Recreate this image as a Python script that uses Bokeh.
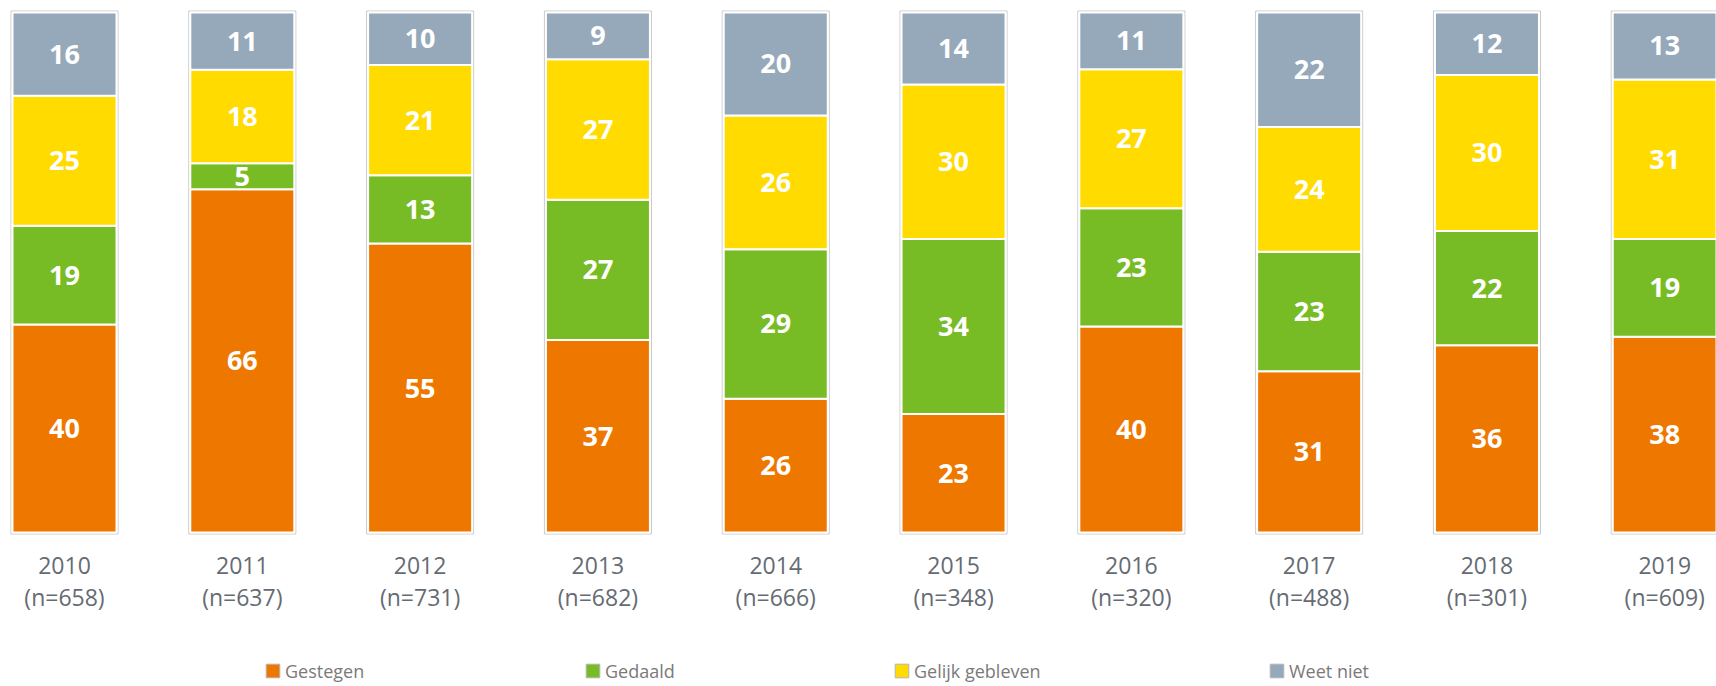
import numpy as np
from bokeh.plotting import figure
from bokeh.models import ColumnDataSource, Legend, LegendItem, Range1d
from bokeh.core.properties import value
from bokeh.embed import file_html
from bokeh.resources import INLINE

# ---- data ----
years = ["2010", "2011", "2012", "2013", "2014", "2015", "2016", "2017", "2018", "2019"]
n_resp = [658, 637, 731, 682, 666, 348, 320, 488, 301, 609]
gestegen = [40, 66, 55, 37, 26, 23, 40, 31, 36, 38]
gedaald = [19, 5, 13, 27, 29, 34, 23, 23, 22, 19]
gelijk = [25, 18, 21, 27, 26, 30, 27, 24, 30, 31]
weet_niet = [16, 11, 10, 9, 20, 14, 11, 22, 12, 13]
series_names = ["Gestegen", "Gedaald", "Gelijk gebleven", "Weet niet"]
colors = ["#EE7700", "#78BC25", "#FFDB00", "#95A9BA"]

series = [gestegen, gedaald, gelijk, weet_niet]
vals = np.array(series, dtype=float)
totals = vals.sum(axis=0)
shares = vals / totals * 100.0  # 100% stacked

W, H = 1716, 686
px_per_unit = 5.2
x_idx = list(range(len(years)))

p = figure(width=W, height=H, output_backend="svg", toolbar_location=None,
           x_range=Range1d(-0.36, 9.291), y_range=Range1d(-29.62, 102.31),
           min_border=0, outline_line_color=None)
p.xaxis.visible = False
p.yaxis.visible = False
p.xgrid.visible = False
p.ygrid.visible = False
p.background_fill_color = "white"
p.border_fill_color = "white"

# legend swatch proxies: tiny bars hidden underneath the first bar frame
proxies = []
for col in colors:
    proxies.append(p.vbar(x=[0], bottom=[50], top=[50.1], width=0.05,
                          fill_color=col, line_color="#B5B5B5", line_width=1))

pad = 1.5 / px_per_unit
p.vbar(x=x_idx, bottom=-pad, top=100 + pad, width=0.602,
       fill_color="white", line_color="#C8C8C8", line_width=1)

bottom = np.zeros(len(years))
for name, col, sh, raw in zip(series_names, colors, shares, series):
    top = bottom + sh
    src = ColumnDataSource(dict(x=x_idx, bottom=bottom.copy(), top=top.copy(),
                                mid=(bottom + top) / 2, lab=[str(v) for v in raw]))
    p.vbar(x="x", bottom="bottom", top="top", width=0.585, source=src,
           fill_color=col, line_color="white", line_width=2)
    p.text(x="x", y="mid", text="lab", source=src, text_align="center",
           text_baseline="middle", text_color="white",
           text_font=value("Open Sans"), text_font_style="bold",
           text_font_size="27px")
    bottom = top

lab_src = ColumnDataSource(dict(x=x_idx, y=[0] * len(years), yr=years,
                                n=["(n=%d)" % v for v in n_resp]))
p.text(x="x", y="y", text="yr", source=lab_src, y_offset=33,
       text_align="center", text_baseline="middle", text_color="#656b73",
       text_font=value("Open Sans"), text_font_size="23px")
p.text(x="x", y="y", text="n", source=lab_src, y_offset=65,
       text_align="center", text_baseline="middle", text_color="#656b73",
       text_font=value("Open Sans"), text_font_size="23px")

legend_x = [264, 584, 893, 1268]
for name, r, lx in zip(series_names, proxies, legend_x):
    lg = Legend(items=[LegendItem(label=name, renderers=[r])],
                location=(lx, 3.5), orientation="horizontal",
                padding=0, margin=0, spacing=0,
                glyph_width=17, glyph_height=17, label_height=17,
                label_standoff=4, border_line_color=None,
                background_fill_alpha=0,
                label_text_font="Open Sans", label_text_font_size="18px",
                label_text_color="#7a7a7a")
    p.add_layout(lg)

open("out.html", "w").write(file_html(p, INLINE))
